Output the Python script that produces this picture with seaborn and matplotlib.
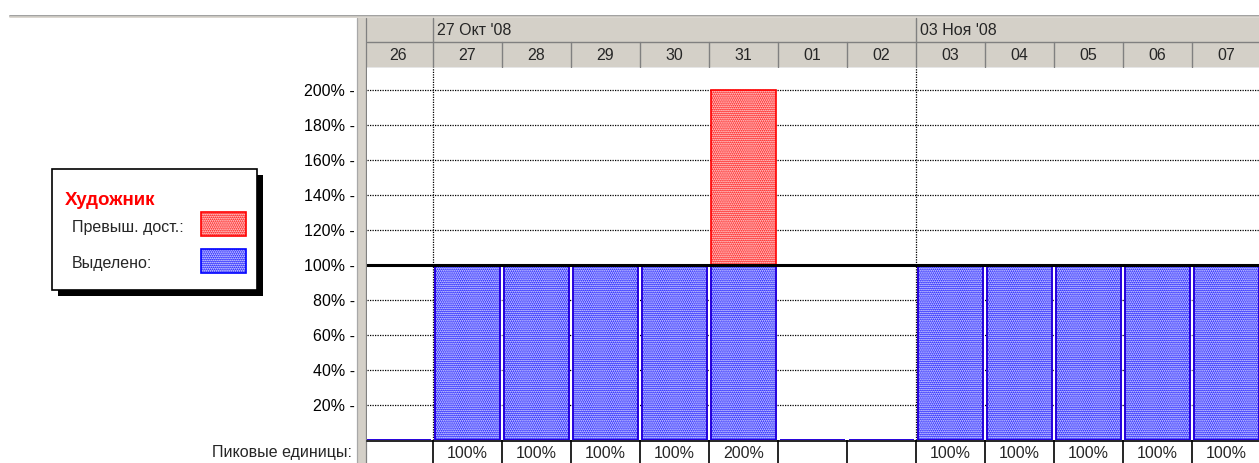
import matplotlib
matplotlib.use("Agg")
import matplotlib.pyplot as plt
import seaborn as sns
from matplotlib.patches import Rectangle
from matplotlib.transforms import blended_transform_factory

# ---- data -------------------------------------------------------------
days = ["26", "27", "28", "29", "30", "31", "01", "02", "03", "04", "05", "06", "07"]
week_labels = ["27 Окт '08", "03 Ноя '08"]
week_starts = ["27", "03"]
peak_units = [0, 100, 100, 100, 100, 200, 0, 0, 100, 100, 100, 100, 100]
allocated = [0, 100, 100, 100, 100, 100, 0, 0, 100, 100, 100, 100, 100]
y_ticks = [20, 40, 60, 80, 100, 120, 140, 160, 180, 200]
resource_name = "Художник"
label_over = "Превыш. дост.:"
label_alloc = "Выделено:"
row_title = "Пиковые единицы:"

# ---- style ------------------------------------------------------------
sns.set_theme(style="white")
plt.rcParams["font.family"] = ["Liberation Sans", "DejaVu Sans"]
plt.rcParams["hatch.linewidth"] = 0.85
FS = 11.5
RED = "#ff0000"
BLUE = "#0000ff"
RED_FILL = "#ff2424"
BLUE_FILL = "#2626ff"
GREY = "#d4d0c8"
DARK = "#808080"
HATCH = "........"

W, H = 1259, 463
fig = plt.figure(figsize=(W / 100, H / 100), dpi=100)

# background layer in pixel coordinates (frame, header, legend)
bg = fig.add_axes([0, 0, 1, 1])
bg.set_xlim(0, W)
bg.set_ylim(H, 0)
bg.axis("off")

# chart area
ax = fig.add_axes([367 / W, (H - 440) / H, (W - 367) / W, (440 - 68) / H])

def bars(values, fill, edge):
    # dithered body: white dot hatch over the fill colour
    sns.barplot(x=days, y=values, order=days, color=fill, saturation=1,
                width=0.93, errorbar=None, edgecolor="white", linewidth=0,
                hatch=HATCH, ax=ax, zorder=2)
    # solid outline
    sns.barplot(x=days, y=values, order=days, color=edge, saturation=1,
                width=0.93, errorbar=None, fill=False, linewidth=1.2,
                ax=ax, zorder=3)

bars(peak_units, RED_FILL, RED)
bars(allocated, BLUE_FILL, BLUE)

ax.set_xlim(-0.4565, 12.471)
ax.set_ylim(0, 372 / 1.75)
ax.set_xticks([])
ax.set_xlabel("")
ax.set_ylabel("")
for s in ax.spines.values():
    s.set_visible(False)

for v in y_ticks:
    if v != 100:
        ax.axhline(v, color="black", lw=0.9, ls=(0, (1, 1)), zorder=1)
ax.axhline(100, color="black", lw=2.2, zorder=4)
for s in week_starts:
    ax.axvline(days.index(s) - 0.5, color="black", lw=0.9, ls=(0, (1, 1)), zorder=1)

ax.set_yticks(y_ticks)
ax.set_yticklabels([f"{v}% -" for v in y_ticks], fontsize=FS, color="black")
ax.tick_params(axis="y", length=0, pad=8.6, left=True)

trans = blended_transform_factory(ax.transData, bg.transData)

# top rule and left splitter
bg.plot([10, W], [15.5, 15.5], color="#a0a0a0", lw=1.4)
bg.plot([10, W], [17.3, 17.3], color=GREY, lw=1.2)
bg.add_patch(Rectangle((357, 18), 9.5, H - 18, facecolor=GREY, edgecolor="none"))
bg.plot([357.5, 357.5], [18, H], color="#a8a8a8", lw=0.9)
bg.plot([366, 366], [18, H], color=DARK, lw=0.9)

# timescale header
bg.add_patch(Rectangle((367, 18), W - 367, 49, facecolor=GREY, edgecolor="none"))
bg.plot([367, W], [42, 42], color=DARK, lw=1)
bg.plot([367, W], [67.5, 67.5], color=DARK, lw=1)
for lab, s in zip(week_labels, week_starts):
    i = days.index(s)
    bg.plot([i - 0.5, i - 0.5], [18, 42], color=DARK, lw=1, transform=trans)
    bg.text(i - 0.44, 30.5, lab, transform=trans, fontsize=FS, ha="left", va="center")
for i, d in enumerate(days):
    if i > 0:
        bg.plot([i - 0.5, i - 0.5], [42, 67], color=DARK, lw=1, transform=trans)
    bg.text(i, 55.5, d, transform=trans, fontsize=FS, ha="center", va="center")

# peak units row
bg.plot([367, W], [440.5, 440.5], color="black", lw=1.2)
for i, v in enumerate(peak_units):
    if i > 0:
        bg.plot([i - 0.5, i - 0.5], [440, H], color="black", lw=1.2, transform=trans)
    if v:
        bg.text(i, 453, f"{v}%", transform=trans, fontsize=FS, ha="center", va="center")
bg.text(352, 453, row_title, fontsize=FS, ha="right", va="center")

# legend box
bg.add_patch(Rectangle((58, 175), 205, 121, facecolor="black", edgecolor="none"))
bg.add_patch(Rectangle((52, 169), 205, 121, facecolor="white", edgecolor="black", lw=1.2))
bg.text(65, 205, resource_name, color=RED, fontsize=13.5, fontweight="bold", va="baseline")
bg.text(72, 232, label_over, fontsize=FS, va="baseline")
bg.text(72, 268, label_alloc, fontsize=FS, va="baseline")
for y0, fill, edge in [(212, RED_FILL, RED), (249, BLUE_FILL, BLUE)]:
    bg.add_patch(Rectangle((201, y0), 45, 24, facecolor=fill, edgecolor="white",
                           lw=0, hatch=HATCH))
    bg.add_patch(Rectangle((201, y0), 45, 24, facecolor="none", edgecolor=edge, lw=1.2))

fig.savefig("out.png", dpi=100)
